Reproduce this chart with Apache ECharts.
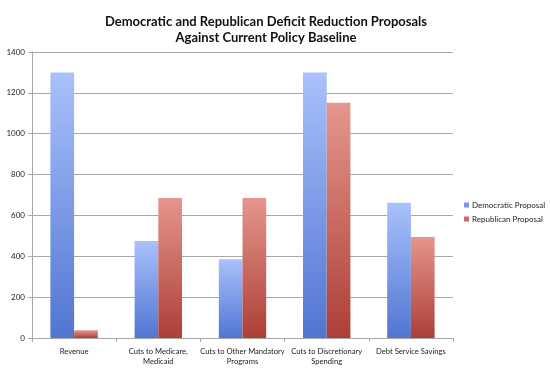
<!DOCTYPE html>
<html>
<head>
<meta charset="utf-8">
<script src="https://cdn.jsdelivr.net/npm/echarts@6/dist/echarts.min.js"></script>
<style>
html,body{margin:0;padding:0;background:#fff;}
#chart{width:550px;height:373px;}
</style>
</head>
<body>
<div id="chart"></div>
<script>
const categories = ["Revenue", "Cuts to Medicare,\nMedicaid", "Cuts to Other Mandatory\nPrograms", "Cuts to Discretionary\nSpending", "Debt Service Savings"];
const democratic = [1300, 475, 385, 1300, 662];
const republican = [38, 685, 685, 1152, 495];
const yTicks = [0, 200, 400, 600, 800, 1000, 1200, 1400];

const chart = echarts.init(document.getElementById('chart'), null, {renderer: 'canvas'});
function grad(top, bottom) {
  return new echarts.graphic.LinearGradient(0, 0, 0, 1, [
    {offset: 0, color: top}, {offset: 1, color: bottom}
  ]);
}
const font = 'Lato, "Open Sans", sans-serif';
chart.setOption({
  animation: false,
  backgroundColor: '#ffffff',
  title: {
    text: 'Democratic and Republican Deficit Reduction Proposals\nAgainst Current Policy Baseline',
    left: 261, top: 9, textAlign: 'center',
    textStyle: {fontFamily: font, fontWeight: 'bold', fontSize: 13, color: '#111', lineHeight: 16}
  },
  legend: {
    orient: 'vertical', left: 459, top: 196,
    itemWidth: 5, itemHeight: 5, itemGap: 6,
    icon: 'rect',
    textStyle: {fontFamily: font, fontSize: 8, color: '#222', padding: [0,0,0,-2]},
    data: [
      {name: 'Democratic Proposal', itemStyle: {color: '#7a96e6'}},
      {name: 'Republican Proposal', itemStyle: {color: '#d06a64'}}
    ]
  },
  grid: {left: 32, right: 97, top: 52, bottom: 35, containLabel: false},
  xAxis: {
    type: 'category', data: categories,
    axisLine: {lineStyle: {color: '#a8a8a8', width: 1}},
    axisTick: {show: true, length: 4, lineStyle: {color: '#a8a8a8'}},
    axisLabel: {fontFamily: font, fontSize: 7.6, color: '#222', lineHeight: 10, margin: 9, interval: 0}
  },
  yAxis: {
    type: 'value', min: 0, max: 1400, interval: 200,
    axisLine: {show: true, lineStyle: {color: '#a8a8a8'}},
    axisTick: {show: true, length: 4, lineStyle: {color: '#a8a8a8'}},
    splitLine: {lineStyle: {color: '#a8a8a8', width: 1}},
    axisLabel: {fontFamily: font, fontSize: 8, color: '#222', margin: 7,
      formatter: v => yTicks.includes(v) ? String(v) : ''}
  },
  series: [
    {name: 'Democratic Proposal', type: 'bar', data: democratic, barGap: '0%', barCategoryGap: '43.7%',
      itemStyle: {color: grad('#a9c1fb', '#5175d2')}},
    {name: 'Republican Proposal', type: 'bar', data: republican, barGap: '0%', barCategoryGap: '43.7%',
      itemStyle: {color: grad('#e5968d', '#ad3f37')}}
  ]
});
</script>
</body>
</html>
